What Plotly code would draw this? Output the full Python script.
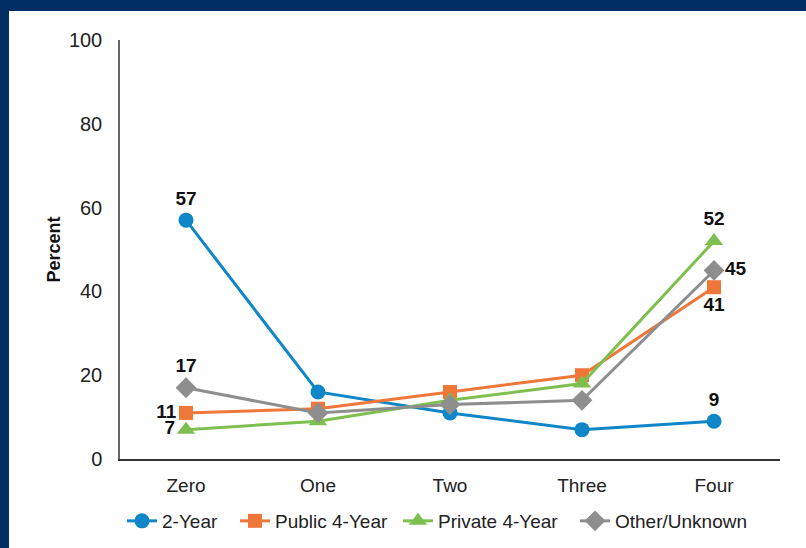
import plotly.graph_objects as go

categories = ["Zero", "One", "Two", "Three", "Four"]
series_names = ["2-Year", "Public 4-Year", "Private 4-Year", "Other/Unknown"]
two_year = [57, 16, 11, 7, 9]
public_4yr = [11, 12, 16, 20, 41]
private_4yr = [7, 9, 14, 18, 52]
other_unknown = [17, 11, 13, 14, 45]
y_ticks = [0, 20, 40, 60, 80, 100]

series_values = [two_year, public_4yr, private_4yr, other_unknown]
colors = ["#0E86C8", "#F0773A", "#7EC04F", "#8E8E8E"]
symbols = ["circle", "square", "triangle-up", "diamond"]
sizes = [15, 14, 16, 16]
label_pos = [
    ["top center", None, None, None, "top center"],
    ["middle left", None, None, None, "bottom center"],
    ["middle left", None, None, None, "top center"],
    ["top center", None, None, None, "middle right"],
]
legend_ids = ["legend", "legend2", "legend3", "legend4"]

FONT = "Liberation Sans"
fig = go.Figure()
for name, vals, col, sym, sz, pos, lg in zip(series_names, series_values, colors, symbols, sizes, label_pos, legend_ids):
    texts = [str(v) if i in (0, len(vals) - 1) else "" for i, v in enumerate(vals)]
    tpos = [p if p else "top center" for p in pos]
    fig.add_trace(go.Scatter(
        x=categories, y=vals, name=name, mode="lines+markers+text",
        line=dict(color=col, width=3),
        marker=dict(symbol=sym, size=sz, color=col),
        text=texts, textposition=tpos,
        textfont=dict(family=FONT, size=19, color="#111111", weight="bold"),
        cliponaxis=False, legend=lg,
    ))

navy = "#002D62"
W, H = 806, 548
ml, mr, mt, mb = 120, 26, 40, 89
pw, ph = W - ml - mr, H - mt - mb
legend_left_px = [122, 235, 398, 575]
leg_y = (H - mb - 521) / ph
legend_common = dict(orientation="h", yanchor="middle", xanchor="left", y=leg_y,
                     font=dict(size=19, color="#222222"), itemwidth=30,
                     bgcolor="rgba(0,0,0,0)", borderwidth=0)
legends = {}
for lg, px in zip(legend_ids, legend_left_px):
    legends[lg] = dict(legend_common, x=(px - ml) / pw)

fig.update_layout(
    width=W, height=H,
    margin=dict(l=ml, r=mr, t=mt, b=mb, pad=0, autoexpand=False),
    paper_bgcolor="white", plot_bgcolor="white",
    font=dict(family=FONT, size=19, color="#222222"),
    showlegend=True,
    shapes=[
        dict(type="rect", xref="paper", yref="paper", x0=-1, x1=(9 - ml) / pw, y0=-1, y1=2,
             fillcolor=navy, line=dict(width=0), layer="below"),
        dict(type="rect", xref="paper", yref="paper", x0=-1, x1=2, y0=1 + (mt - 11) / ph, y1=2,
             fillcolor=navy, line=dict(width=0), layer="below"),
    ],
    **legends,
)
fig.update_xaxes(
    type="category", range=[-0.5, 4.5], showgrid=False, zeroline=False,
    showline=True, linecolor="#333333", linewidth=1.5,
    ticks="outside", ticklen=8, tickcolor="white", automargin=False,
    tickfont=dict(size=19, color="#222222"),
)
fig.update_yaxes(
    range=[0, 100], tickvals=y_ticks, showgrid=False, zeroline=False,
    showline=True, linecolor="#666666", linewidth=1.5,
    ticks="outside", ticklen=12, tickcolor="white", automargin=False,
    tickfont=dict(size=20, color="#222222"),
    title=dict(text="<b>Percent</b>", font=dict(size=18, color="#111111"), standoff=4),
)
fig.write_html("out.html", config={"displayModeBar": False},
               post_script="document.body.style.margin='0';document.body.style.padding='0';")
